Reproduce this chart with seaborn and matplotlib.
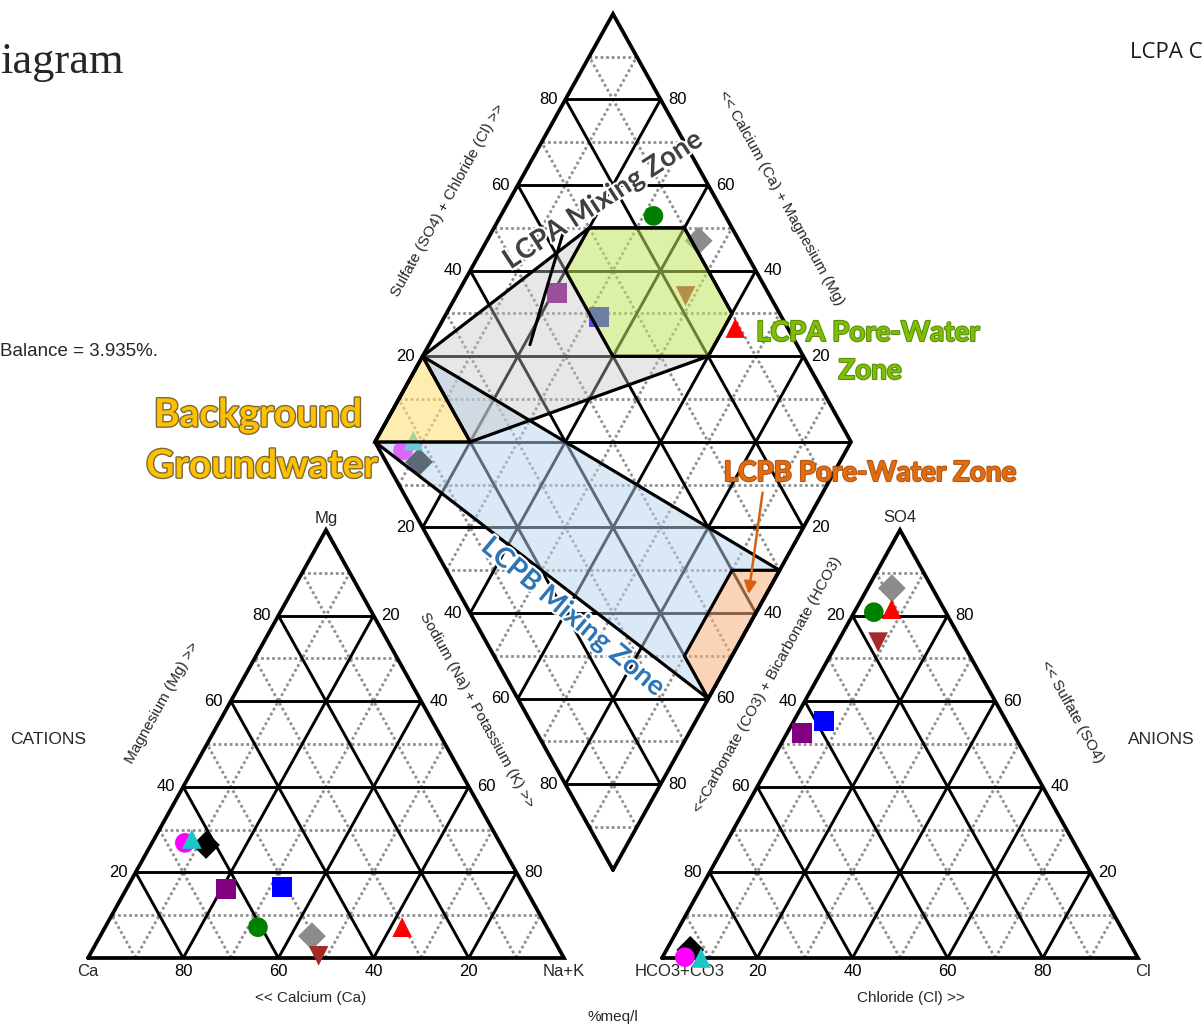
import numpy as np
import pandas as pd
import seaborn as sns
import matplotlib.pyplot as plt
import matplotlib.patheffects as pe
from matplotlib.patches import Polygon

# ---- sample chemistry, % meq/l ----
samples = ["BG-1", "BG-2", "BG-3", "MX-1", "MX-2", "PW-1", "PW-2", "PW-3", "PW-4"]
ca = [62.0, 66.2, 64.3, 63.0, 50.9, 60.7, 50.4, 51.3, 30.4]
mg = [26.4, 26.9, 27.8, 16.1, 16.6, 7.2, 5.1, 0.5, 7.2]
na_k = [11.6, 6.9, 7.9, 20.9, 32.5, 32.1, 44.5, 48.2, 62.4]
hco3 = [93.1, 95.1, 91.8, 44.3, 38.3, 15.1, 8.5, 17.7, 11.0]
so4 = [1.9, 0.2, 0.0, 52.6, 55.4, 80.8, 86.4, 73.8, 81.5]
cl = [5.0, 4.7, 8.2, 3.1, 6.3, 4.1, 5.1, 8.5, 7.5]
colors = ["#000000", "#ff00ff", "#1fc4c4", "#800080", "#0000ff",
          "#008000", "#8c8c8c", "#a52a2a", "#ff0000"]
markers = ["D", "o", "^", "s", "s", "o", "D", "v", "^"]

# ---- interpretive zones, diamond coords (Ca+Mg, SO4+Cl) ----
bg_cm = [100, 100, 80]
bg_sc = [0, 20, 20]
lcpa_pw_cm = [80, 60, 40, 40, 60, 80]
lcpa_pw_sc = [70, 90, 90, 80, 60, 60]
lcpa_mix_cm = [100, 80, 60, 40, 40, 80]
lcpa_mix_sc = [20, 70, 90, 90, 80, 20]
lcpb_pw_cm = [10, 0, 0, 10]
lcpb_pw_sc = [60, 70, 40, 40]
lcpb_mix_cm = [100, 100, 0, 0]
lcpb_mix_sc = [0, 20, 70, 40]
# fill outlines of the mixing zones with the end-member zones cut out
lcpa_fill_cm = [100, 80, 80, 60, 40, 80]
lcpa_fill_sc = [20, 70, 60, 60, 80, 20]
lcpb_fill_cm = [100, 80, 100, 0, 10, 10, 0]
lcpb_fill_sc = [0, 20, 20, 70, 60, 40, 40]

ticks = [20, 40, 60, 80]

# ---- layout (pixels) ----
SIDE, HGT = 476, 428
BASE_Y = 958
CAT_X0, AN_X0 = 88, 662
GAP = AN_X0 - (CAT_X0 + SIDE)
DIA_X = CAT_X0 + SIDE + GAP / 2
DIA_Y = BASE_Y - HGT * GAP / SIDE
ROT = np.degrees(np.arctan2(HGT, SIDE / 2))


def tern(x0, right, top):
    right, top = np.asarray(right, float), np.asarray(top, float)
    return x0 + SIDE * (right + top / 2) / 100, BASE_Y - HGT * top / 100


def dia(cm, sc):
    cm, sc = np.asarray(cm, float), np.asarray(sc, float)
    return DIA_X + SIDE / 2 * (sc - cm) / 100, DIA_Y - HGT * (cm + sc) / 100


sns.set_theme(style="white")
plt.rcParams["font.family"] = ["Liberation Sans", "DejaVu Sans"]

fig = plt.figure(figsize=(12.04, 10.29), dpi=100)
ax = fig.add_axes([0, 0, 1, 1])
ax.set_xlim(0, 1204)
ax.set_ylim(1029, 0)
ax.axis("off")

solid = dict(color="black", lw=2.1, zorder=2, solid_capstyle="butt")
dotted = dict(color="#8f8f8f", lw=2.0, ls=(0, (1, 1)), zorder=1)


def seg(p, q, **kw):
    ax.plot([p[0], q[0]], [p[1], q[1]], **kw)


# ---- grids ----
for k in range(10, 100, 10):
    st = solid if k % 20 == 0 else dotted
    for x0 in (CAT_X0, AN_X0):
        seg(tern(x0, 0, k), tern(x0, 100 - k, k), **st)
        seg(tern(x0, k, 0), tern(x0, k, 100 - k), **st)
        seg(tern(x0, 100 - k, 0), tern(x0, 0, 100 - k), **st)
    seg(dia(k, 0), dia(k, 100), **st)
    seg(dia(0, k), dia(100, k), **st)
    seg(dia(k, 0), dia(0, k), **st)
    seg(dia(100, k), dia(k, 100), **st)
seg(dia(100, 0), dia(0, 100), **solid)

outline = dict(color="black", lw=2.7, zorder=6, solid_joinstyle="miter")
for x0 in (CAT_X0, AN_X0):
    xs, ys = tern(x0, [0, 100, 0, 0], [0, 0, 100, 0])
    ax.plot(xs, ys, **outline)
xs, ys = dia([0, 100, 100, 0, 0], [0, 0, 100, 100, 0])
ax.plot(xs, ys, **outline)

# ---- samples ----
df = pd.DataFrame({"sample": samples, "ca": ca, "mg": mg, "na_k": na_k,
                   "hco3": hco3, "so4": so4, "cl": cl})
parts = []
for panel in ("cation", "anion", "diamond"):
    d = df[["sample"]].copy()
    if panel == "cation":
        d["x"], d["y"] = tern(CAT_X0, df["na_k"], df["mg"])
    elif panel == "anion":
        d["x"], d["y"] = tern(AN_X0, df["cl"], df["so4"])
    else:
        d["x"], d["y"] = dia(df["ca"] + df["mg"], df["so4"] + df["cl"])
    d["panel"] = panel
    parts.append(d)
pts = pd.concat(parts, ignore_index=True)

pal = dict(zip(samples, colors))
mk = dict(zip(samples, markers))
sns.scatterplot(data=pts[pts.panel != "diamond"], x="x", y="y", hue="sample",
                style="sample", palette=pal, markers=mk, s=200,
                linewidth=0, legend=False, ax=ax, zorder=8)
sns.scatterplot(data=pts[pts.panel == "diamond"], x="x", y="y", hue="sample",
                style="sample", palette=pal, markers=mk, s=200,
                linewidth=0, legend=False, ax=ax, zorder=3)

# ---- zones ----
zones = [
    (lcpb_fill_cm, lcpb_fill_sc, lcpb_mix_cm, lcpb_mix_sc, "#b9d3ee", 0.5),
    (lcpa_fill_cm, lcpa_fill_sc, lcpa_mix_cm, lcpa_mix_sc, "#c4c4c4", 0.4),
    (lcpa_pw_cm, lcpa_pw_sc, lcpa_pw_cm, lcpa_pw_sc, "#c2e65e", 0.55),
    (lcpb_pw_cm, lcpb_pw_sc, lcpb_pw_cm, lcpb_pw_sc, "#f8b27c", 0.55),
    (bg_cm, bg_sc, bg_cm, bg_sc, "#ffe27a", 0.6),
]
for fcm, fsc, ocm, osc, fc, a in zones:
    xs, ys = dia(fcm, fsc)
    ax.add_patch(Polygon(np.column_stack([xs, ys]), closed=True, facecolor=fc,
                         alpha=a, edgecolor="none", zorder=4))
    xs, ys = dia(ocm, osc)
    ax.add_patch(Polygon(np.column_stack([xs, ys]), closed=True,
                         facecolor="none", edgecolor="black", lw=2.3, zorder=5))

# ---- tick labels ----
tk = dict(fontsize=12, color="black", va="center", zorder=9)
for k in ticks:
    ax.text(tern(CAT_X0, 100 - k, 0)[0], BASE_Y + 13, str(k), ha="center", **tk)
    ax.text(tern(AN_X0, k, 0)[0], BASE_Y + 13, str(k), ha="center", **tk)
    x, y = tern(CAT_X0, 0, k)
    ax.text(x - 8, y, str(k), ha="right", **tk)
    x, y = tern(CAT_X0, k, 100 - k)
    ax.text(x + 8, y, str(k), ha="left", **tk)
    x, y = tern(AN_X0, 0, 100 - k)
    ax.text(x - 8, y, str(k), ha="right", **tk)
    x, y = tern(AN_X0, 100 - k, k)
    ax.text(x + 8, y, str(k), ha="left", **tk)
    x, y = dia(100, k)
    ax.text(x - 8, y, str(k), ha="right", **tk)
    x, y = dia(k, 100)
    ax.text(x + 8, y, str(k), ha="left", **tk)
    x, y = dia(100 - k, 0)
    ax.text(x - 8, y, str(k), ha="right", **tk)
    x, y = dia(0, 100 - k)
    ax.text(x + 8, y, str(k), ha="left", **tk)

vx = dict(fontsize=12, ha="center", va="center")
x, y = tern(CAT_X0, 0, 100)
ax.text(x, y - 12, "Mg", **vx)
x, y = tern(AN_X0, 0, 100)
ax.text(x, y - 12, "SO4", **vx)
ax.text(CAT_X0, BASE_Y + 13, "Ca", **vx)
ax.text(CAT_X0 + SIDE, BASE_Y + 13, "Na+K", **vx)
ax.text(AN_X0 + 18, BASE_Y + 13, "HCO3+CO3", **vx)
ax.text(AN_X0 + SIDE + 5, BASE_Y + 13, "Cl", **vx)

ttl = dict(fontsize=11, ha="center", va="center")
ax.text(311, 998, "<< Calcium (Ca)", **ttl)
ax.text(911, 998, "Chloride (Cl) >>", **ttl)
ax.text(613, 1017, "%meq/l", **ttl)
ax.text(162, 703, "Magnesium (Mg) >>", rotation=ROT, **ttl)
ax.text(477, 710, "Sodium (Na) + Potassium (K) >>", rotation=-ROT, **ttl)
ax.text(1072, 712, "<< Sulfate (SO4)", rotation=-ROT, **ttl)
ax.text(767, 685, "<<Carbonate (CO3) + Bicarbonate (HCO3)", rotation=ROT, **ttl)
ax.text(448, 200, "Sulfate (SO4) + Chloride (Cl) >>", rotation=ROT, **ttl)
ax.text(781, 198, "<< Calcium (Ca) + Magnesium (Mg)", rotation=-ROT, **ttl)
ax.text(10, 740, "CATIONS", fontsize=12.5, ha="left", va="center")
ax.text(1128, 740, "ANIONS", fontsize=12.5, ha="left", va="center")

ax.text(0, 352, "Balance = 3.935%.", fontsize=13.5, ha="left", va="center")
ax.text(0, 62, "iagram", fontsize=32, ha="left", va="center",
        family=["Liberation Serif", "DejaVu Serif"])
ax.text(1130, 52, "LCPA C", fontsize=16, ha="left", va="center",
        family=["Open Sans", "DejaVu Sans"], color="#1a1a1a")

# ---- zone annotations ----
lab = dict(family=["Lato", "DejaVu Sans"], weight="bold", ha="center",
           va="center", zorder=10)
bg_fx = [pe.withStroke(linewidth=2, foreground="#7a6a3a")]
ax.text(258, 415, "Background", fontsize=28, color="#ffc000",
        path_effects=bg_fx, **lab)
ax.text(262, 466, "Groundwater", fontsize=28, color="#ffc000",
        path_effects=bg_fx, **lab)
pw_fx = [pe.withStroke(linewidth=1.5, foreground="#5b8a10")]
ax.text(868, 333, "LCPA Pore-Water", fontsize=20, color="#7cc000",
        path_effects=pw_fx, **lab)
ax.text(870, 371, "Zone", fontsize=20, color="#7cc000",
        path_effects=pw_fx, **lab)
ax.text(870, 473, "LCPB Pore-Water Zone", fontsize=20, color="#e46c0a",
        path_effects=[pe.withStroke(linewidth=1.5, foreground="#b0541a")], **lab)
ax.text(603, 200, "LCPA Mixing Zone", fontsize=20, color="#404040",
        rotation=33,
        path_effects=[pe.withStroke(linewidth=3, foreground="white")], **lab)
ax.text(573, 617, "LCPB Mixing Zone", fontsize=20, color="#2e75b6",
        rotation=-40,
        path_effects=[pe.withStroke(linewidth=3, foreground="white")], **lab)

# pointer lines
p0, p1 = dia(78.8, 43.9), dia(84.9, 63.9)
seg(p0, p1, color="black", lw=2.2, zorder=7)
ax.annotate("", xy=dia(3.5, 60.3), xytext=dia(12.9, 75.9),
            arrowprops=dict(arrowstyle="-|>", color="#d8610f", lw=1.8,
                            mutation_scale=18), zorder=9)

fig.savefig("out.png", dpi=100)
